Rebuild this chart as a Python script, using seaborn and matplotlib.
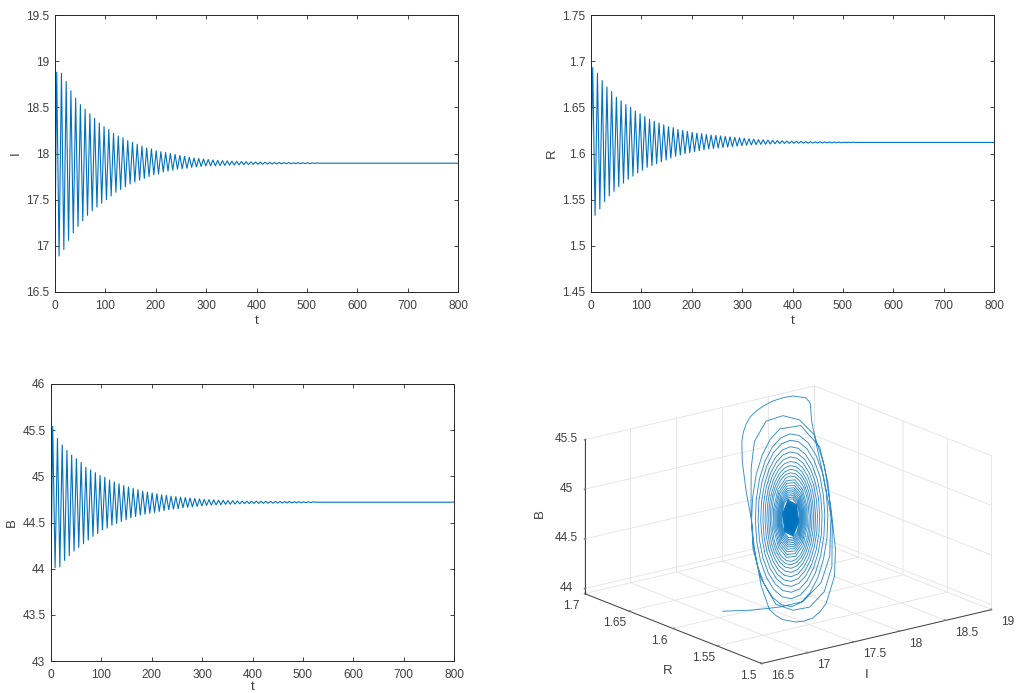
import numpy as np
import pandas as pd
import matplotlib
matplotlib.use("Agg")
import matplotlib.pyplot as plt
import seaborn as sns

BLUE = "#0072BD"
DARK = "#404040"

# time of each turning point (start, then peak / trough alternating), then the settled stretch
t_turn = [0, 3.4, 8.1, 12.8, 17.5, 22.2, 26.9, 31.6, 36.3, 41.0, 45.7, 50.4, 55.1, 59.8, 64.5, 69.2, 73.9, 78.6, 83.3,
          88.0, 92.7, 97.4, 102.1, 106.8, 111.5, 116.2, 120.9, 125.6, 130.3, 135.0, 139.7, 144.4, 149.1, 153.8, 158.5,
          163.2, 167.9, 172.6, 177.3, 182.0, 186.7, 191.4, 196.1, 200.8, 205.5, 210.2, 214.9, 219.6, 224.3, 229.0,
          233.7, 238.4, 243.1, 247.8, 252.5, 257.2, 261.9, 266.6, 271.3, 276.0, 280.7, 285.4, 290.1, 294.8, 299.5,
          304.2, 308.9, 313.6, 318.3, 323.0, 327.7, 332.4, 337.1, 341.8, 346.5, 351.2, 355.9, 360.6, 365.3, 370.0,
          374.7, 379.4, 384.1, 388.8, 393.5, 398.2, 402.9, 407.6, 412.3, 417.0, 421.7, 426.4, 431.1, 435.8, 440.5,
          445.2, 449.9, 454.6, 459.3, 464.0, 468.7, 473.4, 478.1, 482.8, 487.5, 492.2, 496.9, 501.6, 506.3, 511.0,
          515.7, 520.4, 525, 800]

I_start, I_end = 17.0, 17.895
I_peaks = [18.88, 18.87, 18.78, 18.68, 18.60, 18.53, 18.48, 18.43, 18.38, 18.33, 18.29, 18.26, 18.22, 18.19, 18.17,
           18.14, 18.12, 18.10, 18.08, 18.06, 18.05, 18.03, 18.02, 18.01, 18.00, 17.99, 17.98, 17.97, 17.96, 17.95,
           17.945, 17.94, 17.935, 17.93, 17.926, 17.923, 17.92, 17.917, 17.915, 17.913, 17.911, 17.91, 17.908, 17.907,
           17.906, 17.905, 17.904, 17.903, 17.902, 17.901, 17.9, 17.9, 17.899, 17.899, 17.898, 17.898]
I_troughs = [16.89, 16.96, 17.06, 17.14, 17.21, 17.27, 17.33, 17.38, 17.42, 17.46, 17.50, 17.54, 17.58, 17.61, 17.64,
             17.67, 17.69, 17.71, 17.73, 17.75, 17.77, 17.78, 17.80, 17.81, 17.82, 17.83, 17.835, 17.84, 17.85, 17.855,
             17.86, 17.865, 17.866, 17.866, 17.869, 17.871, 17.873, 17.875, 17.877, 17.879, 17.88, 17.882, 17.883,
             17.884, 17.885, 17.886, 17.887, 17.888, 17.889, 17.889, 17.89, 17.89, 17.891, 17.891, 17.892]

R_start, R_end = 1.59, 1.612
R_peaks = [1.693, 1.687, 1.679, 1.672, 1.667, 1.661, 1.657, 1.653, 1.650, 1.646, 1.643, 1.640, 1.637, 1.635, 1.633,
           1.631, 1.629, 1.628, 1.626, 1.625, 1.624, 1.623, 1.622, 1.6215, 1.6205, 1.62, 1.6195, 1.619, 1.6185, 1.618,
           1.6175, 1.617, 1.6165, 1.616, 1.6155, 1.615, 1.6148, 1.6145, 1.6142, 1.614, 1.6138, 1.6135, 1.6132,
           1.6131, 1.613, 1.6129, 1.6128, 1.6127, 1.6126, 1.6126, 1.6125, 1.6124, 1.6124, 1.6123, 1.6123, 1.6122]
R_troughs = [1.533, 1.540, 1.548, 1.554, 1.559, 1.564, 1.568, 1.572, 1.5755, 1.579, 1.582, 1.585, 1.587, 1.589, 1.591,
             1.593, 1.595, 1.597, 1.5985, 1.60, 1.601, 1.602, 1.603, 1.604, 1.605, 1.6055, 1.606, 1.6065, 1.607, 1.6075,
             1.608, 1.6085, 1.609, 1.6093, 1.6096, 1.6099, 1.61, 1.6103, 1.6105, 1.6107, 1.6109, 1.611,
             1.6111, 1.6112, 1.6112, 1.6113, 1.6113, 1.6114, 1.6114, 1.6115, 1.6115, 1.6116, 1.6116, 1.6117, 1.6117]

B_start, B_end = 43.98, 44.72
B_peaks = [45.54, 45.41, 45.34, 45.28, 45.23, 45.19, 45.15, 45.10, 45.07, 45.04, 45.01, 44.99, 44.96, 44.94, 44.92,
           44.90, 44.885, 44.87, 44.855, 44.84, 44.83, 44.82, 44.81, 44.80, 44.795, 44.785, 44.78, 44.775, 44.77,
           44.765, 44.76, 44.755, 44.75, 44.748, 44.745, 44.742, 44.74, 44.738, 44.736, 44.734, 44.732, 44.731, 44.73,
           44.731, 44.73, 44.729, 44.729, 44.728, 44.728, 44.727, 44.727, 44.726, 44.726, 44.725, 44.725, 44.724]
B_troughs = [44.01, 44.02, 44.09, 44.14, 44.19, 44.23, 44.27, 44.31, 44.35, 44.38, 44.42, 44.44, 44.47, 44.49, 44.51,
             44.53, 44.55, 44.565, 44.58, 44.59, 44.60, 44.61, 44.62, 44.63, 44.64, 44.645, 44.65, 44.66, 44.665, 44.67,
             44.675, 44.68, 44.685, 44.688, 44.69, 44.693, 44.696, 44.698, 44.70, 44.702, 44.704, 44.705,
             44.706, 44.707, 44.708, 44.709, 44.71, 44.71, 44.711, 44.712, 44.712, 44.713, 44.713, 44.714, 44.714]

# phase-space trajectory, read turn by turn from the 3D panel
traj_I = [17.0, 17.33, 17.58, 17.835, 18.08, 18.27, 18.525, 18.69, 18.80, 18.845, 18.877, 18.84, 18.667, 18.518, 18.373, 18.228, 18.095,
          17.953, 17.84, 17.746, 17.652, 17.464, 17.265, 17.127, 16.971, 16.899, 16.989, 17.044, 17.116, 17.326, 17.438, 17.558, 17.714, 17.848, 18.13, 18.333,
          18.478, 18.645, 18.681, 18.616, 18.435, 18.156, 17.837, 17.609, 17.319, 17.051, 16.996, 17.109, 17.341, 17.667,
          17.971, 18.246, 18.442, 18.587, 18.775, 18.64,
          18.317, 18.112, 17.895, 17.679, 17.481, 17.311, 17.183, 17.104, 17.08, 17.111, 17.195, 17.326, 17.495, 17.688, 17.895, 18.1, 18.289, 18.449, 18.57, 18.645, 18.668, 18.638, 18.558, 18.434,
          18.275, 18.091, 17.895, 17.7, 17.52, 17.367, 17.25, 17.178, 17.155, 17.183, 17.258, 17.377, 17.529, 17.706, 17.895, 18.082, 18.255, 18.403, 18.515, 18.585, 18.607, 18.58, 18.507, 18.393,
          18.246, 18.076, 17.895, 17.715, 17.549, 17.408, 17.3, 17.234, 17.213, 17.239, 17.309, 17.418, 17.558, 17.721, 17.895, 18.067, 18.227, 18.362, 18.465, 18.528, 18.548, 18.523, 18.456, 18.351,
          18.217, 18.061, 17.895, 17.73, 17.577, 17.447, 17.349, 17.287, 17.268, 17.291, 17.355, 17.456, 17.585, 17.735, 17.895, 18.054, 18.201, 18.326, 18.422, 18.48, 18.499, 18.477, 18.415, 18.318,
          18.193, 18.049, 17.895, 17.742, 17.6, 17.48, 17.388, 17.332, 17.314, 17.335, 17.394, 17.488, 17.608, 17.747, 17.895, 18.042, 18.178, 18.294, 18.383, 18.437, 18.454, 18.433, 18.376, 18.286,
          18.171, 18.038, 17.895, 17.753, 17.622, 17.511, 17.426, 17.373, 17.357, 17.377, 17.432, 17.518, 17.629, 17.758, 17.895, 18.031, 18.158, 18.265, 18.346, 18.397, 18.413, 18.393, 18.34, 18.257,
          18.151, 18.027, 17.895, 17.764, 17.642, 17.539, 17.461, 17.412, 17.397, 17.415, 17.466, 17.546, 17.649, 17.768, 17.895, 18.021, 18.138, 18.237, 18.312, 18.359, 18.374, 18.356, 18.307, 18.23,
          18.132, 18.017, 17.895, 17.774, 17.661, 17.566, 17.492, 17.447, 17.433, 17.45, 17.497, 17.572, 17.667, 17.777, 17.895, 18.012, 18.12, 18.212, 18.283, 18.326, 18.34, 18.323, 18.278, 18.206,
          18.115, 18.008, 17.895, 17.782, 17.678, 17.589, 17.522, 17.48, 17.466, 17.482, 17.526, 17.595, 17.683, 17.786, 17.895, 18.004, 18.104, 18.19, 18.255, 18.295, 18.308, 18.293, 18.25, 18.184,
          18.099, 18, 17.895, 17.79, 17.693, 17.611, 17.548, 17.509, 17.497, 17.511, 17.552, 17.616, 17.698, 17.793, 17.895, 17.996, 18.09, 18.169, 18.229, 18.267, 18.279, 18.264, 18.225, 18.164,
          18.085, 17.895, 17.708, 17.573, 17.525, 17.577, 17.712, 17.895, 18.075, 18.205, 18.251, 18.202,
          18.071, 17.895, 17.721, 17.596, 17.552, 17.6, 17.726, 17.895, 18.062, 18.183, 18.225, 18.179,
          18.058, 17.895, 17.734, 17.618, 17.577, 17.621, 17.738, 17.895, 18.05, 18.161, 18.2, 18.157,
          18.046, 17.895, 17.746, 17.639, 17.601, 17.642, 17.75, 17.895, 18.039, 18.142, 18.178, 18.138,
          18.035, 17.895, 17.757, 17.658, 17.622, 17.66, 17.76, 17.895, 18.028, 18.124, 18.158, 18.122,
          18.025, 17.895, 17.767, 17.674, 17.641, 17.677, 17.77, 17.895, 18.019, 18.108, 18.139, 18.105,
          18.016, 17.895, 17.776, 17.69, 17.66, 17.692, 17.779, 17.895, 18.01, 18.092, 18.121, 18.09,
          18.007, 17.895, 17.785, 17.705, 17.677, 17.707, 17.787, 17.895, 18.002, 18.078, 18.105, 18.076,
          17.999, 17.895, 17.793, 17.719, 17.693, 17.721, 17.795, 17.895, 17.994, 18.064, 18.089, 18.062,
          17.991, 17.895, 17.801, 17.733, 17.709, 17.735, 17.803, 17.895, 17.985, 18.05, 18.073, 18.048,
          17.983, 17.808, 17.723, 17.81, 17.979, 18.06,
          17.977, 17.815, 17.736, 17.816, 17.972, 18.047,
          17.97, 17.821, 17.749, 17.823, 17.966, 18.035,
          17.964, 17.827, 17.76, 17.829, 17.961, 18.025,
          17.96, 17.832, 17.77, 17.833, 17.956, 18.015,
          17.955, 17.837, 17.779, 17.838, 17.952, 18.006,
          17.95, 17.841, 17.788, 17.842, 17.947, 17.997,
          17.945, 17.846, 17.798, 17.847, 17.943, 17.988,
          17.941, 17.85, 17.805, 17.851, 17.939, 17.981,
          17.938, 17.853, 17.812, 17.855, 17.935, 17.974,
          17.934, 17.857, 17.819, 17.858, 17.932, 17.968,
          17.931, 17.86, 17.825, 17.861, 17.929, 17.962,
          17.928, 17.863, 17.831, 17.864, 17.927, 17.957,
          17.926, 17.865, 17.836, 17.866, 17.924, 17.952,
          17.923, 17.868, 17.84, 17.868, 17.922, 17.948,
          17.921, 17.87, 17.845, 17.87, 17.92, 17.943,
          17.919, 17.872, 17.849, 17.872, 17.918, 17.939,
          17.917, 17.874, 17.852, 17.874, 17.916, 17.936,
          17.915, 17.876, 17.855, 17.876, 17.914, 17.933,
          17.914, 17.877, 17.858, 17.878, 17.913, 17.93,
          17.912, 17.879, 17.861, 17.88, 17.911, 17.927,
          17.911, 17.881, 17.864, 17.881, 17.91, 17.925,
          17.909, 17.882, 17.867, 17.883, 17.908, 17.922,
          17.908, 17.884, 17.87, 17.884, 17.907, 17.92, 17.895]
traj_R = [1.596, 1.596, 1.592, 1.592, 1.597, 1.607, 1.632, 1.657, 1.677, 1.687, 1.692, 1.693, 1.690, 1.686, 1.682, 1.677, 1.672,
          1.664, 1.657, 1.65, 1.642, 1.622, 1.597, 1.577, 1.557, 1.542, 1.542, 1.54, 1.54, 1.547, 1.549, 1.552, 1.56, 1.567, 1.587, 1.607,
          1.627, 1.652, 1.667, 1.677, 1.677, 1.667, 1.647, 1.627, 1.597, 1.567, 1.552, 1.547, 1.552, 1.567,
          1.582, 1.602, 1.622, 1.642, 1.6707, 1.6782,
          1.6682, 1.6577, 1.6442, 1.6286, 1.612, 1.5956, 1.5804, 1.5675, 1.5576, 1.5516, 1.5498, 1.5521, 1.5586, 1.5686, 1.5814, 1.5963, 1.612, 1.6276, 1.642, 1.6542, 1.6636, 1.6693, 1.671, 1.6687,
          1.6626, 1.6532, 1.641, 1.627, 1.612, 1.5971, 1.5833, 1.5716, 1.5626, 1.5571, 1.5554, 1.5575, 1.5632, 1.5724, 1.584, 1.5976, 1.612, 1.6263, 1.6396, 1.6508, 1.6595, 1.6648, 1.6664, 1.6644,
          1.6588, 1.6501, 1.6388, 1.6258, 1.612, 1.5983, 1.5856, 1.5748, 1.5665, 1.5614, 1.5599, 1.5618, 1.5671, 1.5755, 1.5863, 1.5988, 1.612, 1.6251, 1.6373, 1.6477, 1.6556, 1.6604, 1.6619, 1.66,
          1.6549, 1.6469, 1.6366, 1.6247, 1.612, 1.5994, 1.5877, 1.5778, 1.5702, 1.5655, 1.564, 1.5658, 1.5706, 1.5784, 1.5883, 1.5998, 1.612, 1.6241, 1.6354, 1.645, 1.6523, 1.6568, 1.6582, 1.6565,
          1.6518, 1.6443, 1.6348, 1.6238, 1.612, 1.6003, 1.5895, 1.5803, 1.5732, 1.5689, 1.5675, 1.5691, 1.5737, 1.5809, 1.5901, 1.6007, 1.612, 1.6232, 1.6337, 1.6425, 1.6493, 1.6534, 1.6547, 1.6532,
          1.6488, 1.6419, 1.6331, 1.6229, 1.612, 1.6012, 1.5911, 1.5826, 1.5761, 1.5721, 1.5708, 1.5723, 1.5765, 1.5832, 1.5917, 1.6015, 1.612, 1.6224, 1.6321, 1.6403, 1.6466, 1.6504, 1.6516, 1.6501,
          1.6461, 1.6397, 1.6316, 1.6221, 1.612, 1.602, 1.5927, 1.5848, 1.5788, 1.5751, 1.5739, 1.5753, 1.5792, 1.5853, 1.5932, 1.6023, 1.612, 1.6216, 1.6306, 1.6381, 1.644, 1.6475, 1.6487, 1.6473,
          1.6435, 1.6376, 1.6301, 1.6213, 1.612, 1.6027, 1.5941, 1.5868, 1.5812, 1.5777, 1.5767, 1.578, 1.5816, 1.5873, 1.5946, 1.603, 1.612, 1.6209, 1.6292, 1.6363, 1.6417, 1.645, 1.646, 1.6448,
          1.6413, 1.6358, 1.6288, 1.6207, 1.612, 1.6034, 1.5954, 1.5886, 1.5834, 1.5802, 1.5792, 1.5804, 1.5838, 1.589, 1.5958, 1.6037, 1.612, 1.6203, 1.628, 1.6345, 1.6395, 1.6426, 1.6436, 1.6424,
          1.6392, 1.6341, 1.6276, 1.6201, 1.612, 1.604, 1.5966, 1.5903, 1.5855, 1.5825, 1.5815, 1.5826, 1.5857, 1.5906, 1.5969, 1.6042, 1.612, 1.6197, 1.6269, 1.6329, 1.6376, 1.6405, 1.6413, 1.6403,
          1.6373, 1.6265, 1.612, 1.5977, 1.5873, 1.5837, 1.5877, 1.598, 1.612, 1.6258, 1.6357, 1.6393,
          1.6354, 1.6254, 1.612, 1.5987, 1.5891, 1.5857, 1.5895, 1.5991, 1.612, 1.6248, 1.634, 1.6373,
          1.6337, 1.6245, 1.612, 1.5997, 1.5908, 1.5877, 1.5911, 1.6, 1.612, 1.6238, 1.6323, 1.6353,
          1.6321, 1.6235, 1.612, 1.6006, 1.5924, 1.5895, 1.5927, 1.6009, 1.612, 1.623, 1.6309, 1.6336,
          1.6306, 1.6227, 1.612, 1.6015, 1.5938, 1.5911, 1.594, 1.6017, 1.612, 1.6222, 1.6295, 1.6322,
          1.6293, 1.6219, 1.612, 1.6022, 1.5951, 1.5926, 1.5953, 1.6024, 1.612, 1.6215, 1.6283, 1.6307,
          1.6281, 1.6212, 1.612, 1.6029, 1.5963, 1.594, 1.5965, 1.6031, 1.612, 1.6208, 1.6271, 1.6293,
          1.6269, 1.6205, 1.612, 1.6036, 1.5975, 1.5953, 1.5977, 1.6038, 1.612, 1.6201, 1.626, 1.6281,
          1.6258, 1.6199, 1.612, 1.6042, 1.5985, 1.5965, 1.5987, 1.6044, 1.612, 1.6195, 1.6249, 1.6269,
          1.6247, 1.6193, 1.612, 1.6048, 1.5996, 1.5978, 1.5998, 1.605, 1.612, 1.6189, 1.6239, 1.6256,
          1.6237, 1.612, 1.6005, 1.6007, 1.612, 1.623,
          1.6229, 1.612, 1.6014, 1.6015, 1.612, 1.6221,
          1.622, 1.612, 1.6023, 1.6024, 1.612, 1.6213,
          1.6212, 1.612, 1.603, 1.6031, 1.612, 1.6207,
          1.6206, 1.612, 1.6037, 1.6037, 1.612, 1.62,
          1.6199, 1.612, 1.6043, 1.6044, 1.612, 1.6194,
          1.6193, 1.612, 1.6049, 1.605, 1.612, 1.6188,
          1.6187, 1.612, 1.6055, 1.6056, 1.612, 1.6182,
          1.6181, 1.612, 1.606, 1.6061, 1.612, 1.6177,
          1.6177, 1.612, 1.6065, 1.6066, 1.612, 1.6173,
          1.6172, 1.612, 1.6069, 1.607, 1.612, 1.6169,
          1.6168, 1.612, 1.6073, 1.6074, 1.612, 1.6165,
          1.6164, 1.612, 1.6077, 1.6078, 1.612, 1.6161,
          1.6161, 1.612, 1.6081, 1.6081, 1.612, 1.6158,
          1.6157, 1.612, 1.6083, 1.6084, 1.612, 1.6155,
          1.6155, 1.612, 1.6087, 1.6087, 1.612, 1.6152,
          1.6151, 1.612, 1.6089, 1.609, 1.612, 1.6149,
          1.6149, 1.612, 1.6091, 1.6092, 1.612, 1.6147,
          1.6147, 1.612, 1.6094, 1.6095, 1.612, 1.6145,
          1.6145, 1.612, 1.6096, 1.6097, 1.612, 1.6143,
          1.6143, 1.612, 1.6098, 1.6099, 1.612, 1.6141,
          1.6141, 1.612, 1.61, 1.6101, 1.612, 1.614,
          1.6139, 1.612, 1.6102, 1.6103, 1.612, 1.6138,
          1.6137, 1.612, 1.6104, 1.6105, 1.612, 1.6136, 1.612]
traj_B = [44.03, 43.97, 43.96, 43.96, 44.08, 44.27, 44.53, 44.78, 45.03, 45.22, 45.38, 45.44, 45.506, 45.534, 45.547, 45.55, 45.54,
          45.54, 45.514, 45.482, 45.44, 45.35, 45.18, 45.005, 44.80, 44.50, 44.24, 44.172, 44.118, 44.023, 44.002, 43.996, 43.999, 44.03, 44.17, 44.325,
          44.628, 44.944, 45.193, 45.322, 45.404, 45.444, 45.38, 45.23, 44.992, 44.75, 44.51, 44.247, 44.121, 44.029,
          44.067, 44.19, 44.485, 44.825, 45.037, 45.256,
          45.327, 45.304, 45.241, 45.144, 45.018, 44.874, 44.72, 44.567, 44.427, 44.307, 44.216, 44.16, 44.143, 44.165, 44.225, 44.318, 44.437, 44.574, 44.72, 44.865, 44.998, 45.112, 45.198, 45.25,
          45.266, 45.246, 45.19, 45.103, 44.99, 44.859, 44.72, 44.582, 44.454, 44.345, 44.262, 44.21, 44.194, 44.213, 44.267, 44.352, 44.46, 44.586, 44.72, 44.853, 44.976, 45.081, 45.161, 45.21,
          45.225, 45.207, 45.155, 45.074, 44.969, 44.849, 44.72, 44.592, 44.474, 44.374, 44.298, 44.251, 44.235, 44.254, 44.304, 44.381, 44.481, 44.597, 44.72, 44.842, 44.955, 45.051, 45.124, 45.169,
          45.183, 45.166, 45.118, 45.044, 44.949, 44.838, 44.72, 44.603, 44.494, 44.402, 44.332, 44.288, 44.274, 44.29, 44.336, 44.407, 44.5, 44.606, 44.72, 44.833, 44.937, 45.026, 45.094, 45.136,
          45.149, 45.133, 45.089, 45.021, 44.932, 44.829, 44.72, 44.611, 44.511, 44.425, 44.36, 44.319, 44.307, 44.322, 44.365, 44.433, 44.516, 44.615, 44.72, 44.825, 44.921, 45.004, 45.066, 45.105,
          45.117, 45.103, 45.062, 44.998, 44.916, 44.821, 44.72, 44.619, 44.526, 44.447, 44.386, 44.349, 44.337, 44.351, 44.391, 44.452, 44.531, 44.622, 44.72, 44.817, 44.906, 44.983, 45.04, 45.076,
          45.088, 45.074, 45.037, 44.978, 44.902, 44.814, 44.72, 44.627, 44.541, 44.467, 44.411, 44.377, 44.366, 44.379, 44.415, 44.472, 44.545, 44.63, 44.72, 44.81, 44.892, 44.963, 45.017, 45.05,
          45.061, 45.048, 45.013, 44.958, 44.888, 44.807, 44.72, 44.634, 44.554, 44.486, 44.434, 44.402, 44.392, 44.404, 44.438, 44.49, 44.558, 44.636, 44.72, 44.803, 44.88, 44.946, 44.996, 45.026,
          45.036, 45.024, 44.992, 44.941, 44.876, 44.801, 44.72, 44.64, 44.566, 44.502, 44.454, 44.425, 44.415, 44.426, 44.458, 44.506, 44.57, 44.642, 44.72, 44.797, 44.869, 44.929, 44.976, 45.004,
          45.014, 45.003, 44.973, 44.926, 44.865, 44.795, 44.72, 44.645, 44.577, 44.518, 44.473, 44.445, 44.436, 44.447, 44.476, 44.522, 44.58, 44.648, 44.72, 44.792, 44.858, 44.915, 44.958, 44.984,
          44.993, 44.955, 44.855, 44.72, 44.587, 44.491, 44.457, 44.494, 44.59, 44.72, 44.848, 44.941,
          44.973, 44.938, 44.845, 44.72, 44.597, 44.507, 44.477, 44.51, 44.6, 44.72, 44.839, 44.925,
          44.955, 44.922, 44.836, 44.72, 44.606, 44.523, 44.495, 44.526, 44.609, 44.72, 44.83, 44.909,
          44.937, 44.906, 44.827, 44.72, 44.614, 44.538, 44.511, 44.54, 44.617, 44.72, 44.822, 44.895,
          44.921, 44.893, 44.819, 44.72, 44.622, 44.551, 44.526, 44.553, 44.624, 44.72, 44.815, 44.883,
          44.907, 44.881, 44.813, 44.72, 44.629, 44.563, 44.54, 44.565, 44.631, 44.72, 44.808, 44.872,
          44.894, 44.87, 44.806, 44.72, 44.635, 44.574, 44.553, 44.576, 44.638, 44.72, 44.801, 44.86,
          44.881, 44.858, 44.799, 44.72, 44.642, 44.585, 44.565, 44.587, 44.643, 44.72, 44.796, 44.85,
          44.869, 44.848, 44.793, 44.72, 44.647, 44.595, 44.577, 44.597, 44.649, 44.72, 44.79, 44.84,
          44.858, 44.838, 44.788, 44.72, 44.653, 44.605, 44.588, 44.607, 44.655, 44.72, 44.784, 44.83,
          44.847, 44.782, 44.658, 44.598, 44.66, 44.779,
          44.837, 44.778, 44.663, 44.607, 44.665, 44.775,
          44.828, 44.773, 44.667, 44.616, 44.669, 44.77,
          44.819, 44.769, 44.671, 44.624, 44.672, 44.767,
          44.813, 44.766, 44.675, 44.631, 44.676, 44.763,
          44.806, 44.762, 44.678, 44.638, 44.679, 44.76,
          44.799, 44.759, 44.681, 44.644, 44.683, 44.757,
          44.792, 44.756, 44.685, 44.651, 44.686, 44.753,
          44.786, 44.753, 44.688, 44.657, 44.689, 44.751,
          44.781, 44.75, 44.69, 44.662, 44.691, 44.748,
          44.776, 44.748, 44.693, 44.666, 44.693, 44.746,
          44.772, 44.746, 44.695, 44.67, 44.696, 44.744,
          44.768, 44.743, 44.697, 44.675, 44.697, 44.742,
          44.764, 44.742, 44.699, 44.678, 44.699, 44.741,
          44.76, 44.74, 44.7, 44.681, 44.701, 44.739,
          44.757, 44.738, 44.702, 44.684, 44.702, 44.737,
          44.754, 44.737, 44.703, 44.688, 44.704, 44.736,
          44.752, 44.736, 44.704, 44.69, 44.705, 44.735,
          44.75, 44.734, 44.705, 44.692, 44.706, 44.733,
          44.747, 44.733, 44.707, 44.695, 44.708, 44.732,
          44.745, 44.732, 44.708, 44.697, 44.709, 44.731,
          44.743, 44.731, 44.709, 44.699, 44.71, 44.73,
          44.741, 44.73, 44.71, 44.701, 44.711, 44.729,
          44.739, 44.729, 44.711, 44.703, 44.712, 44.728, 44.72]

x_ticks = [0, 100, 200, 300, 400, 500, 600, 700, 800]
I_ticks = [16.5, 17, 17.5, 18, 18.5, 19, 19.5]
R_ticks = [1.45, 1.5, 1.55, 1.6, 1.65, 1.7, 1.75]
B_ticks = [43, 43.5, 44, 44.5, 45, 45.5, 46]


def turning_series(start, peaks, troughs, end):
    values = np.empty(len(peaks) + len(troughs))
    values[0::2] = peaks
    values[1::2] = troughs
    return np.concatenate([[start], values, [end, end]])


def fmt(v):
    return f"{v:g}"


sns.set_theme(style="white")
plt.rcParams["font.family"] = ["Liberation Sans", "DejaVu Sans"]
plt.rcParams["grid.color"] = "#e3e3e3"
plt.rcParams["grid.linewidth"] = 0.6

W, H = 1017, 693
fig = plt.figure(figsize=(W / 100, H / 100), dpi=100, facecolor="white")


def rect(l, t, r, b):
    return [l / W, 1 - b / H, (r - l) / W, (b - t) / H]


panels = [
    (rect(55, 15, 458, 292), "I", I_start, I_peaks, I_troughs, I_end, I_ticks, 2),
    (rect(591, 15, 994, 292), "R", R_start, R_peaks, R_troughs, R_end, R_ticks, 2),
    (rect(51, 384, 454, 661), "B", B_start, B_peaks, B_troughs, B_end, B_ticks, 0),
]
for pos, name, start, peaks, troughs, end, ticks, xpad in panels:
    ax = fig.add_axes(pos)
    frame = pd.DataFrame({"t": t_turn, name: turning_series(start, peaks, troughs, end)})
    sns.lineplot(data=frame, x="t", y=name, ax=ax, color=BLUE, linewidth=0.8, estimator=None, sort=False, errorbar=None)
    ax.set_xlim(0, 800)
    ax.set_ylim(ticks[0], ticks[-1])
    ax.set_xticks(x_ticks)
    ax.set_xticklabels([fmt(v) for v in x_ticks])
    ax.set_yticks(ticks)
    ax.set_yticklabels([fmt(v) for v in ticks])
    ax.tick_params(axis="both", direction="in", length=3, width=0.6, color="#262626", labelcolor=DARK, labelsize=8.6,
                   top=True, right=True, bottom=True, left=True)
    ax.tick_params(axis="x", pad=6)
    ax.tick_params(axis="y", pad=4)
    ax.set_xlabel("t", fontsize=9.5, color=DARK, labelpad=xpad)
    ax.set_ylabel(name, fontsize=9.5, color=DARK, labelpad=3)
    for s in ax.spines.values():
        s.set_color("#262626")
        s.set_linewidth(0.7)
        s.set_visible(True)

ax3 = fig.add_axes(rect(544, 361, 1023, 697), projection="3d", proj_type="ortho", facecolor="none")
ax3.view_init(elev=17.7, azim=-127.6)
ax3.set_box_aspect((1, 1, 0.558), zoom=1.275)
ax3.plot(traj_I, traj_R, traj_B, color=BLUE, linewidth=0.65, alpha=0.8)
ax3.plot(traj_I[416:447], traj_R[416:447], traj_B[416:447], color=BLUE, linewidth=0.9, alpha=0.85)
ax3.plot(traj_I[446:], traj_R[446:], traj_B[446:], color=BLUE, linewidth=1.2)
ax3.set_xlim(16.5, 19)
ax3.set_ylim(1.5, 1.7)
ax3.set_zlim(43.95, 45.505)
i3 = [16.5, 17, 17.5, 18, 18.5, 19]
r3 = [1.5, 1.55, 1.6, 1.65, 1.7]
b3 = [44, 44.5, 45, 45.5]
ax3.set_xticks(i3, [fmt(v) for v in i3], ha="left", va="center")
ax3.set_yticks(r3, [fmt(v) for v in r3], va="center")
ax3.set_zticks(b3, [fmt(v) for v in b3], va="center")
for axis, pad in ((ax3.xaxis, -1), (ax3.yaxis, -0.5), (ax3.zaxis, -2.4)):
    axis.set_pane_color((1, 1, 1, 0))
    axis.pane.set_edgecolor("#e3e3e3")
    axis.pane.set_linewidth(0.6)
    axis.line.set_color("#404040")
    axis.line.set_linewidth(0.7)
    axis._axinfo["tick"]["inward_factor"] = 0.0
    axis._axinfo["tick"]["outward_factor"] = 0.06
    axis.set_tick_params(labelsize=8.6, labelcolor=DARK, color="#808080", width=0.5, pad=pad)
ax3.text2D(540 / W, 1 - 514 / H, "B", transform=fig.transFigure, fontsize=9.5, color=DARK, rotation=90, ha="center", va="center")
ax3.text2D(668 / W, 1 - 671 / H, "R", transform=fig.transFigure, fontsize=9.5, color=DARK, ha="center", va="center")
ax3.text2D(867 / W, 1 - 675 / H, "I", transform=fig.transFigure, fontsize=9.5, color=DARK, ha="center", va="center")

fig.savefig("out.png", dpi=100, facecolor="white")
